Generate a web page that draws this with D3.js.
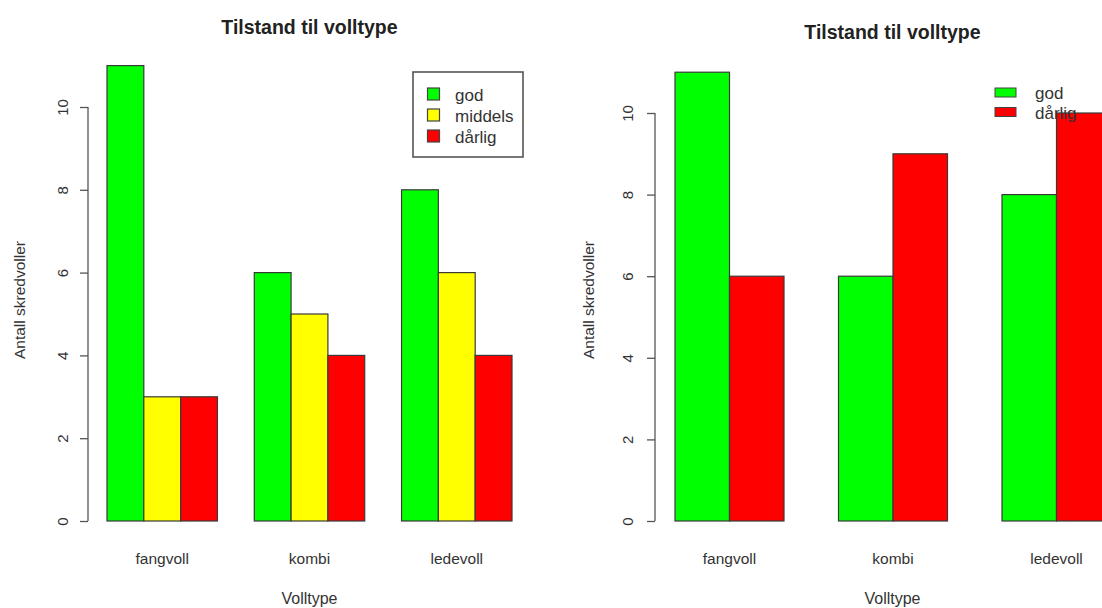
<!DOCTYPE html>
<html><head><meta charset="utf-8">
<script src="https://cdn.jsdelivr.net/npm/d3@7"></script>
<style>
body{margin:0;background:#fff;}
svg{display:block;font-family:"Liberation Sans",Arial,sans-serif;}
</style></head>
<body>
<svg id="c" width="1102" height="608"></svg>
<script>
const categories = ["fangvoll","kombi","ledevoll"];
const seriesLeft = ["god","middels","dårlig"];
const valuesLeft = {god:[11,6,8], middels:[3,5,6], "dårlig":[3,4,4]};
const seriesRight = ["god","dårlig"];
const valuesRight = {god:[11,6,8], "dårlig":[6,9,10]};
const yTicks = [0,2,4,6,8,10];
const colors = {god:"#00ff00", middels:"#ffff00", "dårlig":"#ff0000"};
const titleText = "Tilstand til volltype";
const xTitle = "Volltype";
const yTitle = "Antall skredvoller";

const svg = d3.select("#c");

function panel(cfg){
  const g = svg.append("g");
  const y = d3.scaleLinear().domain([0,10]).range([cfg.y0, cfg.y10]);
  const x0 = d3.scaleBand().domain(categories).range([cfg.xa, cfg.xb])
      .paddingInner(cfg.padInner).paddingOuter(0);
  const x1 = d3.scaleBand().domain(cfg.series).range([0, x0.bandwidth()]).padding(0);

  categories.forEach((c,i)=>{
    cfg.series.forEach(s=>{
      const v = cfg.values[s][i];
      g.append("rect")
        .attr("x", x0(c)+x1(s)).attr("y", y(v))
        .attr("width", x1.bandwidth()).attr("height", y(0)-y(v))
        .attr("fill", colors[s]).attr("stroke","#3a3a3a").attr("stroke-width",1.2);
    });
  });

  const ax = g.append("g").attr("transform",`translate(${cfg.axisX},0)`)
    .call(d3.axisLeft(y).tickValues(yTicks).tickSize(8).tickSizeOuter(0).tickPadding(0));
  ax.select(".domain").remove();
  ax.append("line").attr("x1",0).attr("x2",0).attr("y1",y(0)).attr("y2",y(10))
    .attr("stroke","#555").attr("stroke-width",1.3);
  ax.selectAll(".tick line").attr("stroke","#555").attr("stroke-width",1.3);
  ax.selectAll(".tick text")
    .attr("x",0).attr("y",0).attr("dy",null)
    .attr("transform",`translate(${cfg.tickLabX - cfg.axisX},0) rotate(-90)`)
    .attr("text-anchor","middle").attr("dominant-baseline","central")
    .attr("fill","#333").style("font-size","15px").style("font-family","'Liberation Sans',Arial,sans-serif");

  categories.forEach(c=>{
    g.append("text").attr("x", x0(c)+x0.bandwidth()/2).attr("y", 564)
      .attr("text-anchor","middle").attr("fill","#333").style("font-size","15.5px").text(c);
  });
  const cx = (cfg.plotL + cfg.plotR)/2;
  g.append("text").attr("x", cx).attr("y", 604).attr("text-anchor","middle")
    .attr("fill","#333").style("font-size","16px").text(xTitle);
  g.append("text").attr("x", cx).attr("y", cfg.titleY).attr("text-anchor","middle")
    .attr("fill","#222").style("font-size","19.5px").style("font-weight","bold").text(titleText);
  g.append("text").attr("transform",`translate(${cfg.yTitleX},300) rotate(-90)`)
    .attr("text-anchor","middle").attr("dominant-baseline","central")
    .attr("fill","#333").style("font-size","15.5px").text(yTitle);
  return g;
}

const gl = panel({series:seriesLeft, values:valuesLeft, y0:521, y10:107,
  xa:107, xb:512, padInner:0.25, axisX:88, tickLabX:62, plotL:91, plotR:528,
  titleY:34, yTitleX:19});
const gr = panel({series:seriesRight, values:valuesRight, y0:521, y10:113,
  xa:675, xb:1111, padInner:1/3, axisX:655, tickLabX:627, plotL:657, plotR:1128,
  titleY:39, yTitleX:588});

// left legend (boxed)
const ll = gl.append("g");
ll.append("rect").attr("x",413).attr("y",72).attr("width",110).attr("height",85)
  .attr("fill","#fff").attr("stroke","#555").attr("stroke-width",1.6);
const legY = d3.scalePoint().domain(seriesLeft).range([94,136]);
seriesLeft.forEach(s=>{
  ll.append("rect").attr("x",427.5).attr("y",legY(s)-6).attr("width",12).attr("height",12)
    .attr("fill",colors[s]).attr("stroke","#444").attr("stroke-width",1.2);
  ll.append("text").attr("x",455).attr("y",legY(s)+1).attr("dominant-baseline","central")
    .attr("fill","#333").style("font-size","17px").text(s);
});

// right legend (no box)
const rl = gr.append("g");
const legY2 = d3.scalePoint().domain(seriesRight).range([92.5,112]);
seriesRight.forEach(s=>{
  rl.append("rect").attr("x",995).attr("y",legY2(s)-4.5).attr("width",21).attr("height",9)
    .attr("fill",colors[s]).attr("stroke","#444").attr("stroke-width",1);
  rl.append("text").attr("x",1035).attr("y",legY2(s)+1).attr("dominant-baseline","central")
    .attr("fill","#333").style("font-size","17px").text(s);
});
</script>
</body></html>
